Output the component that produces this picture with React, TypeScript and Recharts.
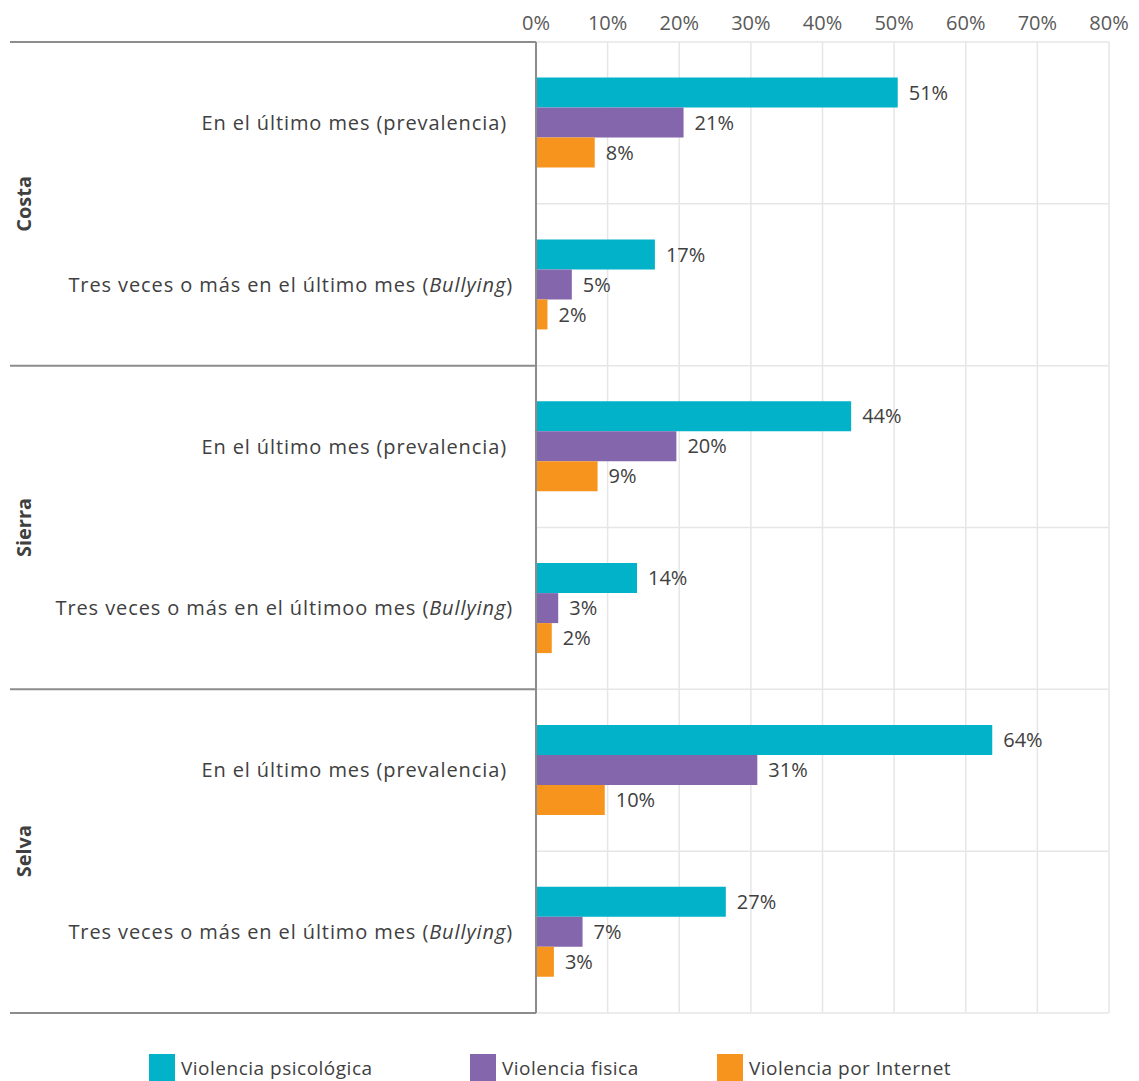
import React from "react";
import {
  BarChart,
  Bar,
  XAxis,
  YAxis,
  CartesianGrid,
  Legend,
  LabelList,
} from "recharts";

const regions = ["Costa", "Sierra", "Selva"];
const rowLabels = [
  "En el último mes (prevalencia)",
  "Tres veces o más en el último mes (Bullying)",
  "En el último mes (prevalencia)",
  "Tres veces o más en el últimoo mes (Bullying)",
  "En el último mes (prevalencia)",
  "Tres veces o más en el último mes (Bullying)",
];
const psicologica = [50.5, 16.6, 44.0, 14.1, 63.7, 26.5];
const fisica = [20.6, 5.0, 19.6, 3.1, 30.9, 6.5];
const internet = [8.2, 1.6, 8.6, 2.2, 9.6, 2.5];
const xTicks = [0, 10, 20, 30, 40, 50, 60, 70, 80];

const seriesNames = ["Violencia psicológica", "Violencia fisica", "Violencia por Internet"];
const colors = ["#01B2C8", "#8366AC", "#F7941D"];

const W = 1139;
const H = 1081;
const PLOT_TOP = 42;
const PLOT_BOTTOM = 1013;
const PLOT_LEFT = 536;
const BAND = (PLOT_BOTTOM - PLOT_TOP) / rowLabels.length;
const FONT = "'Open Sans', sans-serif";
const TEXT = "#404040";
const LINE = "#8c8c8c";
const legendWidths = [321, 247, 260];

const data = rowLabels.map((label, i) => ({
  id: `r${i}`,
  label,
  psicologica: psicologica[i],
  fisica: fisica[i],
  internet: internet[i],
}));

const pct = (v: number) => `${Math.round(v)}%`;

function RowTick(props: any) {
  const { y, payload, index } = props;
  const i = typeof index === "number" ? index : data.findIndex((d) => d.id === payload.value);
  const label = data[i]?.label ?? "";
  const m = label.match(/^(.*)\((Bullying)\)$/);
  return (
    <g>
      <text
        x={m ? 513 : 507}
        y={y}
        dy={7}
        textAnchor="end"
        fill={TEXT}
        fontSize={20}
        letterSpacing={0.9}
        fontFamily={FONT}
      >
        {m ? (
          <>
            {m[1]}(<tspan fontStyle="italic">Bullying</tspan>)
          </>
        ) : (
          label
        )}
      </text>
      {i % 2 === 0 && (
        <>
          <line x1={10} x2={PLOT_LEFT} y1={y - BAND / 2} y2={y - BAND / 2} stroke={LINE} strokeWidth={2} />
          <text
            x={0}
            y={0}
            transform={`translate(31, ${y + BAND / 2}) rotate(-90)`}
            textAnchor="middle"
            fill={TEXT}
            fontSize={20}
            fontWeight="bold"
            fontFamily={FONT}
          >
            {regions[i / 2]}
          </text>
        </>
      )}
      {i === data.length - 1 && (
        <line x1={10} x2={PLOT_LEFT} y1={y + BAND / 2} y2={y + BAND / 2} stroke={LINE} strokeWidth={2} />
      )}
    </g>
  );
}

function LegendContent() {
  return (
    <div style={{ display: "flex", fontFamily: FONT, fontSize: 19, color: TEXT, paddingLeft: 149 }}>
      {seriesNames.map((n, i) => (
        <div key={n} style={{ display: "flex", alignItems: "center", width: legendWidths[i] }}>
          <span style={{ display: "inline-block", width: 26, height: 27, background: colors[i], marginRight: 6 }} />
          <span style={{ letterSpacing: 0.5 }}>{n}</span>
        </div>
      ))}
    </div>
  );
}

export default function App() {
  return (
    <div style={{ position: "absolute", left: 0, top: 0, width: W, height: H, background: "#fff" }}>
      <BarChart
        width={W}
        height={H}
        data={data}
        layout="vertical"
        margin={{ top: 12, right: 30, left: 0, bottom: 38 }}
        barCategoryGap="22%"
        barGap={0}
      >
        <CartesianGrid
          stroke="#e6e6e6"
          strokeWidth={1.5}
          horizontalCoordinatesGenerator={({ offset }: any) =>
            rowLabels.map((_, i) => offset.top + (i * offset.height) / rowLabels.length).concat(offset.top + offset.height)
          }
        />
        <XAxis
          type="number"
          orientation="top"
          domain={[0, 80]}
          ticks={xTicks}
          tickFormatter={pct}
          tick={{ fontSize: 20, fill: "#595959", fontFamily: FONT, dy: -4 }}
          tickLine={false}
          axisLine={false}
          height={30}
          interval={0}
        />
        <YAxis
          type="category"
          dataKey="id"
          width={PLOT_LEFT}
          tick={<RowTick />}
          tickLine={false}
          axisLine={{ stroke: LINE, strokeWidth: 2 }}
          interval={0}
        />
        <Legend
          verticalAlign="bottom"
          content={<LegendContent />}
          wrapperStyle={{ top: 1054, left: 0, height: 30, width: W }}
        />
        {(["psicologica", "fisica", "internet"] as const).map((k, i) => (
          <Bar key={k} dataKey={k} name={seriesNames[i]} fill={colors[i]} isAnimationActive={false}>
            <LabelList
              dataKey={k}
              position="right"
              offset={11}
              formatter={(v: any) => pct(Number(v))}
              style={{ fontSize: 20, fill: TEXT, fontFamily: FONT }}
            />
          </Bar>
        ))}
      </BarChart>
    </div>
  );
}
